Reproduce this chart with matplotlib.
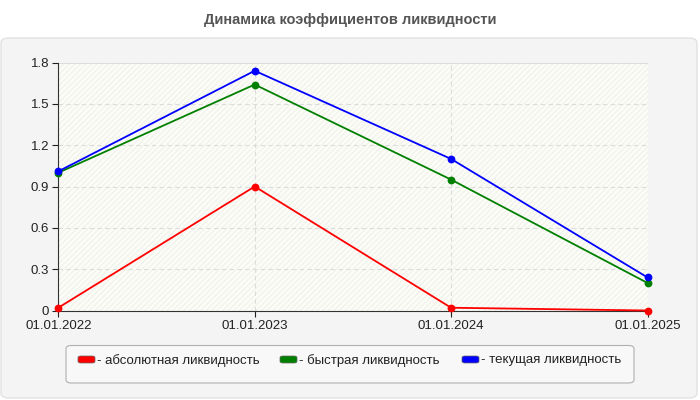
import matplotlib
matplotlib.use("Agg")
import matplotlib.pyplot as plt
from matplotlib.patches import FancyBboxPatch, Rectangle

plt.rcParams['font.family'] = ['Liberation Sans', 'DejaVu Sans']

dates = ["01.01.2022", "01.01.2023", "01.01.2024", "01.01.2025"]
absolute = [0.02, 0.90, 0.02, 0.00]
quick = [1.00, 1.64, 0.95, 0.20]
current = [1.01, 1.74, 1.10, 0.24]
series_names = ["- абсолютная ликвидность", "- быстрая ликвидность", "- текущая ликвидность"]
colors = ["#ff0000", "#008000", "#0000ff"]
yticks = [0, 0.3, 0.6, 0.9, 1.2, 1.5, 1.8]
ytick_labels = ["0", "0.3", "0.6", "0.9", "1.2", "1.5", "1.8"]
title = "Динамика коэффициентов ликвидности"

W, H = 700, 400
fig = plt.figure(figsize=(7, 4), dpi=100)
fig.patch.set_facecolor("white")

# outer panel
panel = FancyBboxPatch((1 / W, 2 / H), 696 / W, (H - 38 - 2) / H,
                       boxstyle="round,pad=0,rounding_size=0.012",
                       transform=fig.transFigure, facecolor="#f4f4f4",
                       edgecolor="#e2e2e2", linewidth=1, zorder=-1)
fig.patches.append(panel)

fig.text(350 / W, 1 - 20 / H, title, ha="center", va="center",
         fontsize=10.5, fontweight="bold", color="#555555")

left, right, top, bottom = 58.3, 647.5, 62.5, 310.5
ax = fig.add_axes([left / W, 1 - bottom / H, (right - left) / W, (bottom - top) / H])
ax.set_facecolor("#fdfdf7")
ax.add_patch(Rectangle((0, 0), 1, 1, transform=ax.transAxes, facecolor="none",
                       edgecolor="#f2f2ee", hatch="//////", linewidth=0, zorder=0))

x = list(range(len(dates)))
for vals, c in zip([absolute, quick, current], colors):
    ax.plot(x, vals, color=c, linewidth=1.3, marker="o", markersize=4.6,
            zorder=3, clip_on=False)

ax.set_xlim(0, len(dates) - 1)
ax.set_ylim(0, 1.8)
ax.set_yticks(yticks)
ax.set_yticklabels(ytick_labels)
ax.set_xticks(x)
ax.set_xticklabels(dates)
ax.grid(True, color="#dcdcdc", linestyle=(0, (4, 3)), linewidth=0.8)
ax.axhline(1.8, color="#d8d8d8", linewidth=1.2, zorder=1)
for s in ["top", "right"]:
    ax.spines[s].set_visible(False)
ax.spines["left"].set_color("#333333")
ax.spines["bottom"].set_color("#333333")
ax.tick_params(axis="both", labelsize=9.5, colors="#222222", length=4.5, width=0.8, pad=2)
ax.tick_params(axis="x", pad=2)

# legend box
lb = FancyBboxPatch((66 / W, 1 - 383 / H), (634 - 66) / W, (383 - 345.5) / H,
                    boxstyle="round,pad=0,rounding_size=0.008",
                    transform=fig.transFigure, facecolor="#f8f8f8",
                    edgecolor="#b0b0b0", linewidth=0.8, zorder=1)
fig.patches.append(lb)
leg_x = [78, 280, 462]
for lx, name, c in zip(leg_x, series_names, colors):
    sw = FancyBboxPatch((lx / W, 1 - 363 / H), 17 / W, 7 / H,
                        boxstyle="round,pad=0,rounding_size=0.004",
                        transform=fig.transFigure, facecolor=c,
                        edgecolor="#666666", linewidth=0.5, zorder=2)
    fig.patches.append(sw)
    fig.text((lx + 19) / W, 1 - 360.5 / H, name, ha="left", va="center",
             fontsize=9.5, color="#222222")

fig.savefig("out.png", dpi=100)
